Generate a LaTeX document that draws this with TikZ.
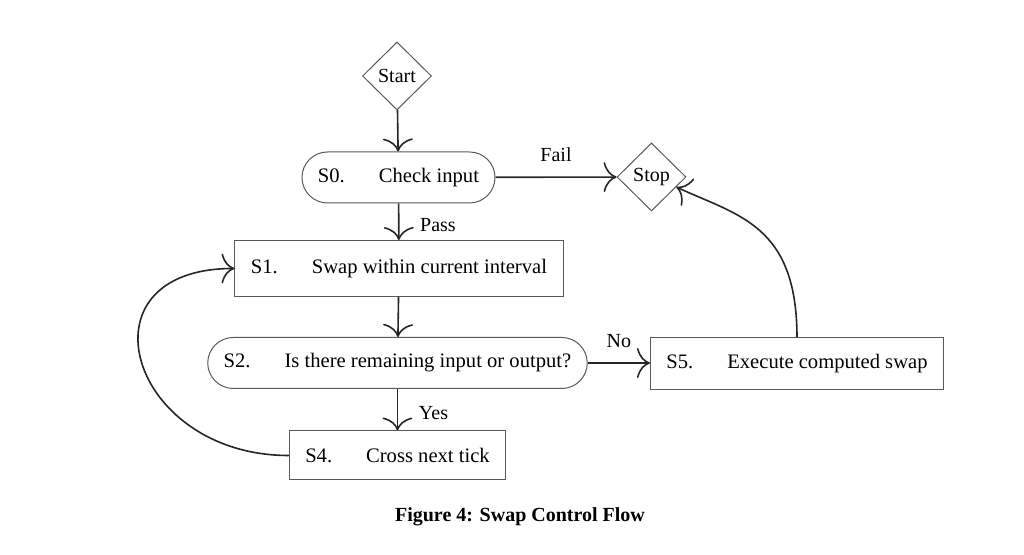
\documentclass[tikz,border=0pt]{standalone}
\usepackage{fontspec}
\setmainfont{Liberation Serif}
\usetikzlibrary{shapes.geometric, arrows.meta}

\tikzset{
    flowarrow/.style={-{Computer Modern Rightarrow[length=6.5pt, width=15pt]}, line width=.8pt, draw=black!85},
    stepbox/.style={draw=black!65, line width=.5pt, rectangle, minimum height=26pt, inner xsep=8pt, font=\fontsize{10.3pt}{12pt}\selectfont},
    roundbox/.style={stepbox, minimum height=25.5pt, rounded corners=12.75pt},
    endpoint/.style={draw=black!65, line width=.5pt, diamond, minimum width=34.5pt, minimum height=34pt, inner sep=0pt},
    branch/.style={right, xshift=7pt, yshift=-1.5pt},
}
\newcommand{\steplabel}[2]{#1\hspace{17pt}#2\hspace{6pt}}

\begin{document}
\begin{tikzpicture}[x=.5pt, y=.5pt]
        \useasboundingbox (0, 0) rectangle (1024, 555);

        % start and stop
        \node[endpoint] (start) at(397, 479){Start};
        \node[endpoint] (stop) at(651.5, 378){Stop};

        % steps
        \node[roundbox] (s0) at(398.5, 377.5){\steplabel{S0.}{Check input}};
        \node[stepbox, minimum height=28pt] (s1) at(399, 286.5){\steplabel{S1.}{Swap within current interval}};
        \node[roundbox] (s2) at(397.5, 192){\steplabel{S2.}{Is there remaining input or output?}};
        \node[stepbox, minimum height=24.5pt] (s4) at(397.5, 99.5){\steplabel{S4.}{Cross next tick}};
        \node[stepbox] (s5) at(797, 191){\steplabel{S5.}{Execute computed swap}};

        \node (caption) at(520, 38){\textbf{Figure 4: Swap Control Flow}};

        % connectors
        \draw[flowarrow] (start) -- (s0);
        \draw[flowarrow] (s0) -- node[above=4pt]{Fail} (stop);
        \draw[flowarrow] (s0) -- node[branch]{Pass} (s1);
        \draw[flowarrow] (s1) -- (s2);
        \draw[flowarrow] (s2) -- node[branch]{Yes} (s4);
        \draw[flowarrow] (s2.east) -- node[above=4pt]{No} (s2.east -| s5.west);
        \draw[flowarrow] (s4.west) to[out=180, in=180, looseness=2.1] (s1.west);
        \draw[flowarrow] (s5.north) to[out=90, in=-25, out looseness=1.5, in looseness=.9] (stop.-22);

    \end{tikzpicture}
\end{document}
